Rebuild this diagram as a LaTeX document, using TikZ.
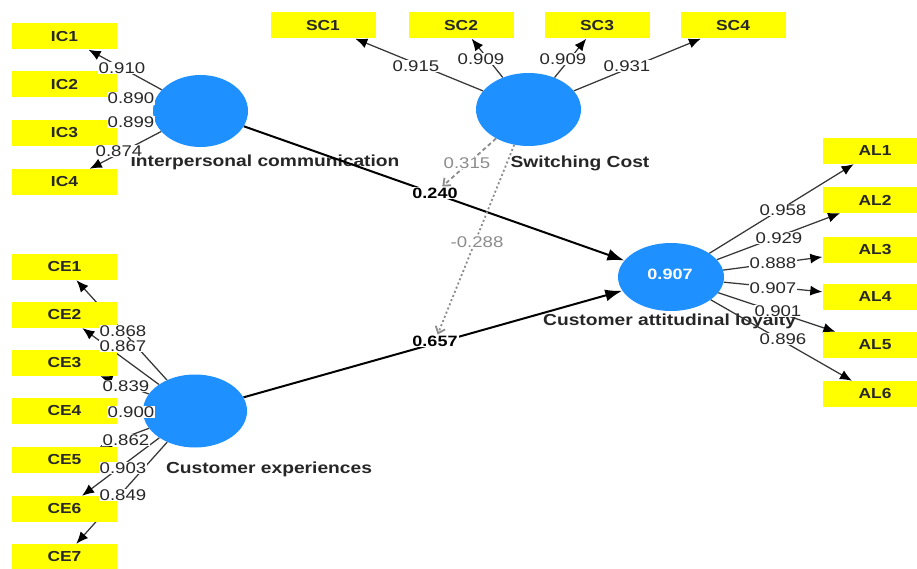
\documentclass[tikz,border=0pt]{standalone}
\usepackage{fontspec}
\setmainfont{Liberation Sans}[FakeStretch=1.2]
\usetikzlibrary{arrows.meta,shapes.geometric}
\pgfdeclarelayer{bg}
\pgfsetlayers{bg,main}
\definecolor{lvblue}{RGB}{30,144,255}
\definecolor{mvyellow}{RGB}{255,255,0}
\definecolor{modgray}{RGB}{140,140,140}
\definecolor{loadgray}{RGB}{55,55,55}
\definecolor{txtgray}{RGB}{40,40,40}
\begin{document}
\begin{tikzpicture}[x=1pt,y=-1pt,
  ind/.style={fill=mvyellow, minimum width=105pt, minimum height=26pt, inner sep=0pt,
    font=\fontsize{14.5}{16}\selectfont\bfseries, text=txtgray},
  lv/.style={ellipse, fill=lvblue, inner sep=0pt},
  lab/.style={fill=white, inner sep=1pt, font=\fontsize{15.5}{17}\selectfont, text=txtgray},
  plab/.style={fill=white, inner sep=1pt, font=\fontsize{15}{17}\selectfont\bfseries, text=black},
  mlab/.style={fill=white, inner sep=1pt, font=\fontsize{15.5}{17}\selectfont, text=modgray},
  cname/.style={inner sep=0pt, font=\fontsize{16}{18}\selectfont\bfseries, text=black!85},
  load/.style={draw=loadgray, line width=1.25pt, -{Latex[length=12pt,width=10pt,color=black,fill=black]}},
  pathline/.style={draw=black, line width=2pt, -{Latex[length=17pt,width=12pt]}},
  modline/.style={draw=modgray, line width=1.8pt, -{Straight Barb[length=6pt,width=10pt]}}]
\useasboundingbox (0,0) rectangle (917,569);

% indicators
\node[ind] (IC1) at (64.5,36.5) {IC1};
\node[ind] (IC2) at (64.5,84.5) {IC2};
\node[ind] (IC3) at (64.5,133) {IC3};
\node[ind] (IC4) at (64.5,182) {IC4};
\node[ind] (SC1) at (323,25.5) {SC1};
\node[ind] (SC2) at (461,25.5) {SC2};
\node[ind] (SC3) at (597,25.5) {SC3};
\node[ind] (SC4) at (733,25.5) {SC4};
\node[ind] (AL1) at (875,151) {AL1};
\node[ind] (AL2) at (875,200) {AL2};
\node[ind] (AL3) at (875,250) {AL3};
\node[ind] (AL4) at (875,297) {AL4};
\node[ind] (AL5) at (875,345) {AL5};
\node[ind] (AL6) at (875,394) {AL6};
\node[ind] (CE1) at (64.5,267) {CE1};
\node[ind] (CE2) at (64.5,315) {CE2};
\node[ind] (CE3) at (64.5,363) {CE3};
\node[ind] (CE4) at (64.5,411) {CE4};
\node[ind] (CE5) at (64.5,460) {CE5};
\node[ind] (CE6) at (64.5,509) {CE6};
\node[ind] (CE7) at (64.5,557) {CE7};

% latent variables
\node[lv, minimum width=95pt, minimum height=72pt] (ic) at (200.5,111) {};
\node[lv, minimum width=105pt, minimum height=73pt] (sc) at (528.5,109.5) {};
\node[lv, minimum width=106pt, minimum height=68pt] (al) at (671,277) {};
\node[lv, minimum width=104pt, minimum height=73pt] (ce) at (195,411) {};
\node[font=\fontsize{15}{17}\selectfont\bfseries, text=white, inner sep=0pt] (r2) at (670,274) {0.907};

% loading labels
\node[lab] (lic1) at (122,68) {0.910};
\node[lab] (lic2) at (131,98.5) {0.890};
\node[lab] (lic3) at (131,122) {0.899};
\node[lab] (lic4) at (119,151) {0.874};
\node[lab] (lsc1) at (416,66) {0.915};
\node[lab] (lsc2) at (481,59) {0.909};
\node[lab] (lsc3) at (563,59) {0.909};
\node[lab] (lsc4) at (627,66) {0.931};
\node[lab] (lal1) at (783,210) {0.958};
\node[lab] (lal2) at (779,238) {0.929};
\node[lab] (lal3) at (773,263) {0.888};
\node[lab] (lal4) at (773,288) {0.907};
\node[lab] (lal5) at (778,311) {0.901};
\node[lab] (lal6) at (783,339) {0.896};
\node[lab] (lce1) at (123,331) {0.868};
\node[lab] (lce2) at (123,346) {0.867};
\node[lab] (lce3) at (126,386) {0.839};
\node[lab] (lce4) at (131,412) {0.900};
\node[lab] (lce5) at (126,440) {0.862};
\node[lab] (lce6) at (123,468) {0.903};
\node[lab] (lce7) at (123,495) {0.849};

% path labels
\node[plab] (l240) at (435,193) {0.240};
\node[plab] (l657) at (435,341) {0.657};
\node[mlab] (l315) at (467,163) {0.315};
\node[mlab] (l288) at (477,242) {-0.288};

\begin{pgfonlayer}{bg}
\fill[white] (0,0) rectangle (917,569);
\node[cname] (nic) at (265,162) {Interpersonal communication};
\node[cname] (nsc) at (580,163) {Switching Cost};
\node[cname] (nce) at (269,469) {Customer experiences};
\node[cname, anchor=west] (nal) at (543,321) {Customer attitudinal loyalty};

\foreach \i in {1,...,4} \draw[load] (ic) -- (IC\i);
\foreach \i in {1,...,4} \draw[load] (sc) -- (SC\i);
\foreach \i in {1,...,6} \draw[load] (al) -- (AL\i);
\foreach \i in {1,...,7} \draw[load] (ce) -- (CE\i);

\draw[pathline] (ic) -- (al);
\draw[pathline] (ce) -- (al);
\draw[modline, dash pattern=on 4pt off 3pt] (sc) -- (l240);
\draw[modline, dash pattern=on 2pt off 2.5pt] (sc) -- (l657);
\end{pgfonlayer}
\end{tikzpicture}
\end{document}
